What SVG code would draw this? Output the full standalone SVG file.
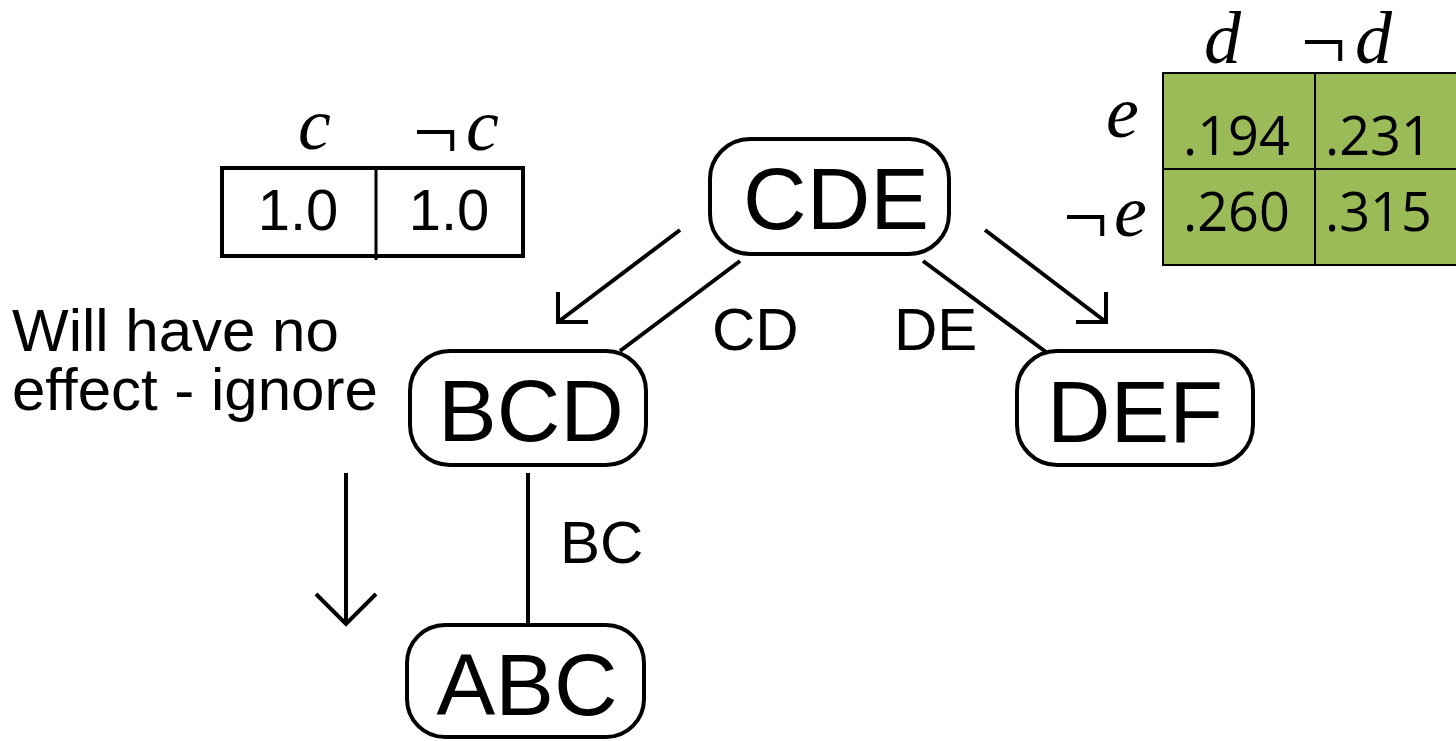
<svg xmlns="http://www.w3.org/2000/svg" width="1456" height="741" viewBox="0 0 1456 741">
<style>
.node{fill:#fff;stroke:#000;stroke-width:4}
.nl{font-family:"Liberation Sans",Arial,sans-serif;font-size:88px;fill:#000;text-anchor:middle}
.lb{font-family:"Liberation Sans",Arial,sans-serif;font-size:60px;fill:#000}
.ln{stroke:#000;stroke-width:4;fill:none}
.mi{font-family:"Liberation Serif","Times New Roman",serif;font-style:italic;font-size:74px;fill:#000}
.neg{font-family:"Liberation Serif","Times New Roman",serif;font-size:80px;fill:#000}
.num{font-family:"Liberation Sans",Arial,sans-serif;font-size:58px;fill:#000;text-anchor:middle}
.gn{font-family:"Open Sans","Liberation Sans",sans-serif;font-size:54px;fill:#000}
</style>
<rect width="1456" height="741" fill="#fff"/>
<g id="connectors">
<line class="ln" x1="740" y1="261" x2="620" y2="351"/>
<line class="ln" x1="923" y1="261" x2="1046" y2="352"/>
<line class="ln" x1="528" y1="473" x2="528" y2="624"/>
<line class="ln" x1="680" y1="230" x2="558" y2="322"/>
<polyline class="ln" points="558,292 558,322 588,322"/>
<line class="ln" x1="985" y1="230" x2="1106" y2="322"/>
<polyline class="ln" points="1076,322 1106,322 1106,292"/>
<line class="ln" x1="346" y1="473" x2="346" y2="623"/>
<polyline class="ln" points="316,594 346,624 376,594"/>
</g>
<g id="labels">
<text class="lb" x="712" y="350">CD</text>
<text class="lb" x="894" y="350">DE</text>
<text class="lb" x="560" y="563">BC</text>
<text class="lb" x="12" y="351" font-size="61">Will have no</text>
<text class="lb" x="12" y="410" font-size="61">effect - ignore</text>
</g>
<g id="CDE">
<rect class="node" x="710" y="139" width="239" height="115" rx="40"/>
<text class="nl" x="836" y="229">CDE</text>
</g>
<g id="BCD">
<rect class="node" x="410" y="351" width="236" height="114" rx="40"/>
<text class="nl" x="531" y="441">BCD</text>
</g>
<g id="DEF">
<rect class="node" x="1017" y="351" width="236" height="114" rx="40"/>
<text class="nl" x="1135" y="442">DEF</text>
</g>
<g id="ABC">
<rect class="node" x="407" y="625" width="237" height="112" rx="38"/>
<text class="nl" x="527" y="715">ABC</text>
</g>
<g id="table-c">
<text class="mi" x="298" y="149">c</text>
<text class="neg" x="413" y="159">¬</text>
<text class="mi" x="466" y="150">c</text>
<rect x="222" y="168" width="301" height="88" fill="#fff" stroke="#000" stroke-width="4"/>
<line x1="376" y1="168" x2="376" y2="260" stroke="#000" stroke-width="3"/>
<text class="num" x="298" y="230">1.0</text>
<text class="num" x="449" y="230">1.0</text>
</g>
<g id="table-de">
<text class="mi" x="1204" y="63" font-size="62">d</text>
<text class="neg" x="1301" y="69">¬</text>
<text class="mi" x="1355" y="63" font-size="62">d</text>
<text class="mi" x="1106" y="137">e</text>
<text class="neg" x="1063" y="244">¬</text>
<text class="mi" x="1114" y="236">e</text>
<rect x="1163" y="73" width="310" height="192" fill="#9BBB59" stroke="#000" stroke-width="2"/>
<line x1="1163" y1="169" x2="1456" y2="169" stroke="#000" stroke-width="2"/>
<line x1="1315" y1="73" x2="1315" y2="265" stroke="#000" stroke-width="2"/>
<text class="gn" x="1183" y="155">.194</text>
<text class="gn" x="1325" y="155">.231</text>
<text class="gn" x="1183" y="231">.260</text>
<text class="gn" x="1325" y="231">.315</text>
</g>
</svg>
